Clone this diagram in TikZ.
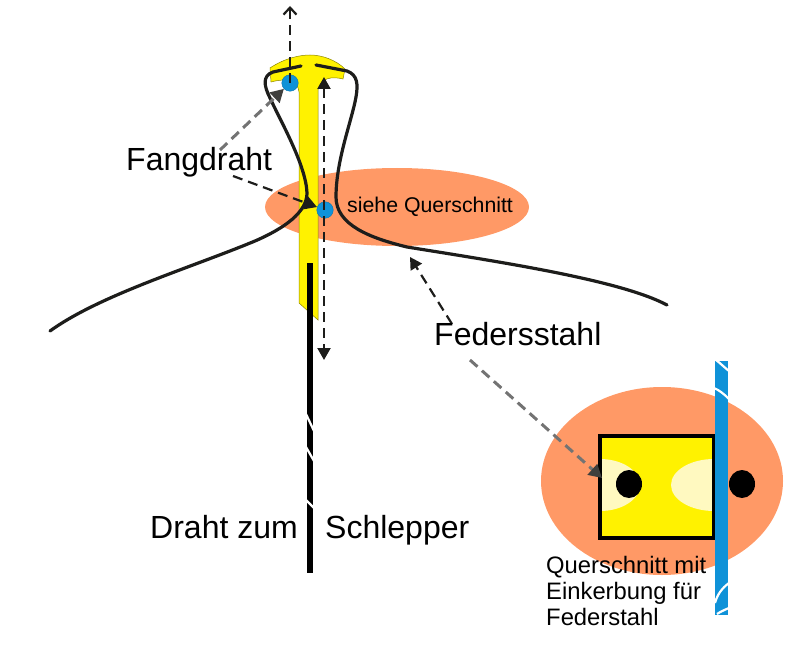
\documentclass[tikz,border=0pt]{standalone}
\usepackage{fontspec}
\setmainfont{Liberation Sans}
\usetikzlibrary{arrows.meta,shapes.geometric}
\definecolor{lachs}{HTML}{FF9966}
\definecolor{gelb}{HTML}{FFF200}
\definecolor{hell}{HTML}{FFF9C0}
\definecolor{blau}{HTML}{0F92D8}
\definecolor{dunkel}{HTML}{1D1D1B}

\begin{document}
\begin{tikzpicture}[x=1pt,y=-1pt,
  zone/.style={ellipse, fill=lachs, inner sep=0pt},
  dot/.style={circle, fill=blau, draw=blau!80!black, line width=.4pt, minimum size=16.5pt, inner sep=0pt},
  hole/.style={ellipse, fill=black, minimum width=26pt, minimum height=28pt, inner sep=0pt},
  wire/.style={line width=3.2pt, draw=dunkel, line cap=round},
  nick/.style={draw=white, line width=2.2pt},
  arr/.style={dash pattern=on 10pt off 6pt, line width=2.2pt, draw=dunkel, -{Stealth[length=12pt,width=13pt,inset=0pt]}},
  darr/.style={arr, {Stealth[length=12pt,width=13pt,inset=0pt]}-{Stealth[length=12pt,width=13pt,inset=0pt]}},
  garr/.style={arr, draw=black!55, line width=3pt, -{Stealth[length=13pt,width=14pt,inset=0pt,color=dunkel!85]}},
  lab/.style={font=\fontsize{32}{36}\selectfont, inner sep=0pt, anchor=base west},
  note/.style={font=\fontsize{21.3}{25}\selectfont, inner sep=0pt, anchor=base west}]
\useasboundingbox (0,0) rectangle (794,655);
% orange zones
\node[zone, minimum width=264pt, minimum height=78pt] (zoneTop) at (397,207) {};
\node[zone, minimum width=242pt, minimum height=188pt] (zoneSec) at (662,481) {};
% yellow catch
\fill[gelb, draw=black!45!gelb, line width=.5pt] (270,68) .. controls (285,58) and (300,55) .. (310,55)
  .. controls (322,55) and (336,60) .. (345,69) -- (343,79) .. controls (332,76) and (320,78) .. (318,90)
  -- (318,320) -- (299,303) -- (299,92) .. controls (298,80) and (285,78) .. (271,82) -- cycle;
% wires
\draw[wire] (301,66) -- (273,72) .. controls (262,76) and (264,86) .. (270,98)
  .. controls (280,120) and (306,165) .. (307,193)
  .. controls (307,212) and (285,228) .. (255,241)
  .. controls (190,268) and (100,295) .. (50,331);
\draw[wire] (316,65) -- (347,71) .. controls (358,75) and (358,85) .. (356,97)
  .. controls (352,120) and (336,160) .. (336,197)
  .. controls (336,225) and (370,238) .. (407,247)
  .. controls (500,262) and (620,280) .. (667,305);
% pull rod with breaks
\fill[black] (307,263) rectangle (313,573);
\draw[nick] (306,414) -- (314,431);
\draw[nick] (306,447) -- (314,461);
\draw[nick] (306,500) -- (314,508);
% cross section
\node[fill=gelb, minimum width=113pt, minimum height=101pt, inner sep=0pt] (secBox) at (657,487) {};
\begin{scope}
\clip (secBox.south west) rectangle (secBox.north east);
\fill[hell] (600,485) ellipse [x radius=40, y radius=26];
\fill[hell] (714,485) ellipse [x radius=43, y radius=26];
\end{scope}
\draw[black, line width=4pt] (secBox.south west) rectangle (secBox.north east);
\node[hole] (holeIn) at (629,484) {};
\node[hole] (holeOut) at (742,484) {};
% spring steel
\fill[blau] (715,361) rectangle (728,615);
\draw[nick] (716,360) .. controls (720,363) and (724,367) .. (729,371);
\draw[nick] (714,388) .. controls (719,390) and (724,394) .. (729,399);
\draw[nick] (715,603) .. controls (717,595) and (722,588) .. (729,583);
\draw[nick] (717,614) .. controls (720,612) and (724,610) .. (729,608);
% dots
\node[dot] (dotTop) at (290,83) {};
\node[dot] (dotMid) at (325,210) {};
% arrows
\coordinate (topEnd) at (290,6);
\coordinate (stemTop) at (324,77);
\coordinate (stemBot) at (324,360);
\coordinate (fangA) at (220,150);
\coordinate (fangB) at (233,176);
\coordinate (federTip) at (410,257);
\coordinate (federUp) at (452,324);
\coordinate (federLow) at (470,360);
\coordinate (secTip) at (602,478);
\draw[arr, -{Straight Barb[length=7pt,width=13pt]}] (dotTop.center) -- (topEnd);
\draw[darr] (stemTop) -- (stemBot);
\draw[garr] (fangA) -- (dotTop);
\draw[arr] (fangB) -- (dotMid);
\draw[arr] (federUp) -- (federTip);
\draw[garr] (federLow) -- (secTip);
% labels
\node[lab] (fang) at (126,171) {Fangdraht};
\node[lab] (feder) at (434,345) {Federsstahl};
\node[lab] (draht) at (150,538) {Draht zum};
\node[lab] (schlepper) at (325,538) {Schlepper};
\node[note] (siehe) at (347,212) {siehe Querschnitt};
\node[font=\fontsize{23.8}{26}\selectfont, inner sep=0pt, anchor=north west, align=left] (quer) at (546,556) {Querschnitt mit\\Einkerbung für\\Federstahl};
\end{tikzpicture}
\end{document}
